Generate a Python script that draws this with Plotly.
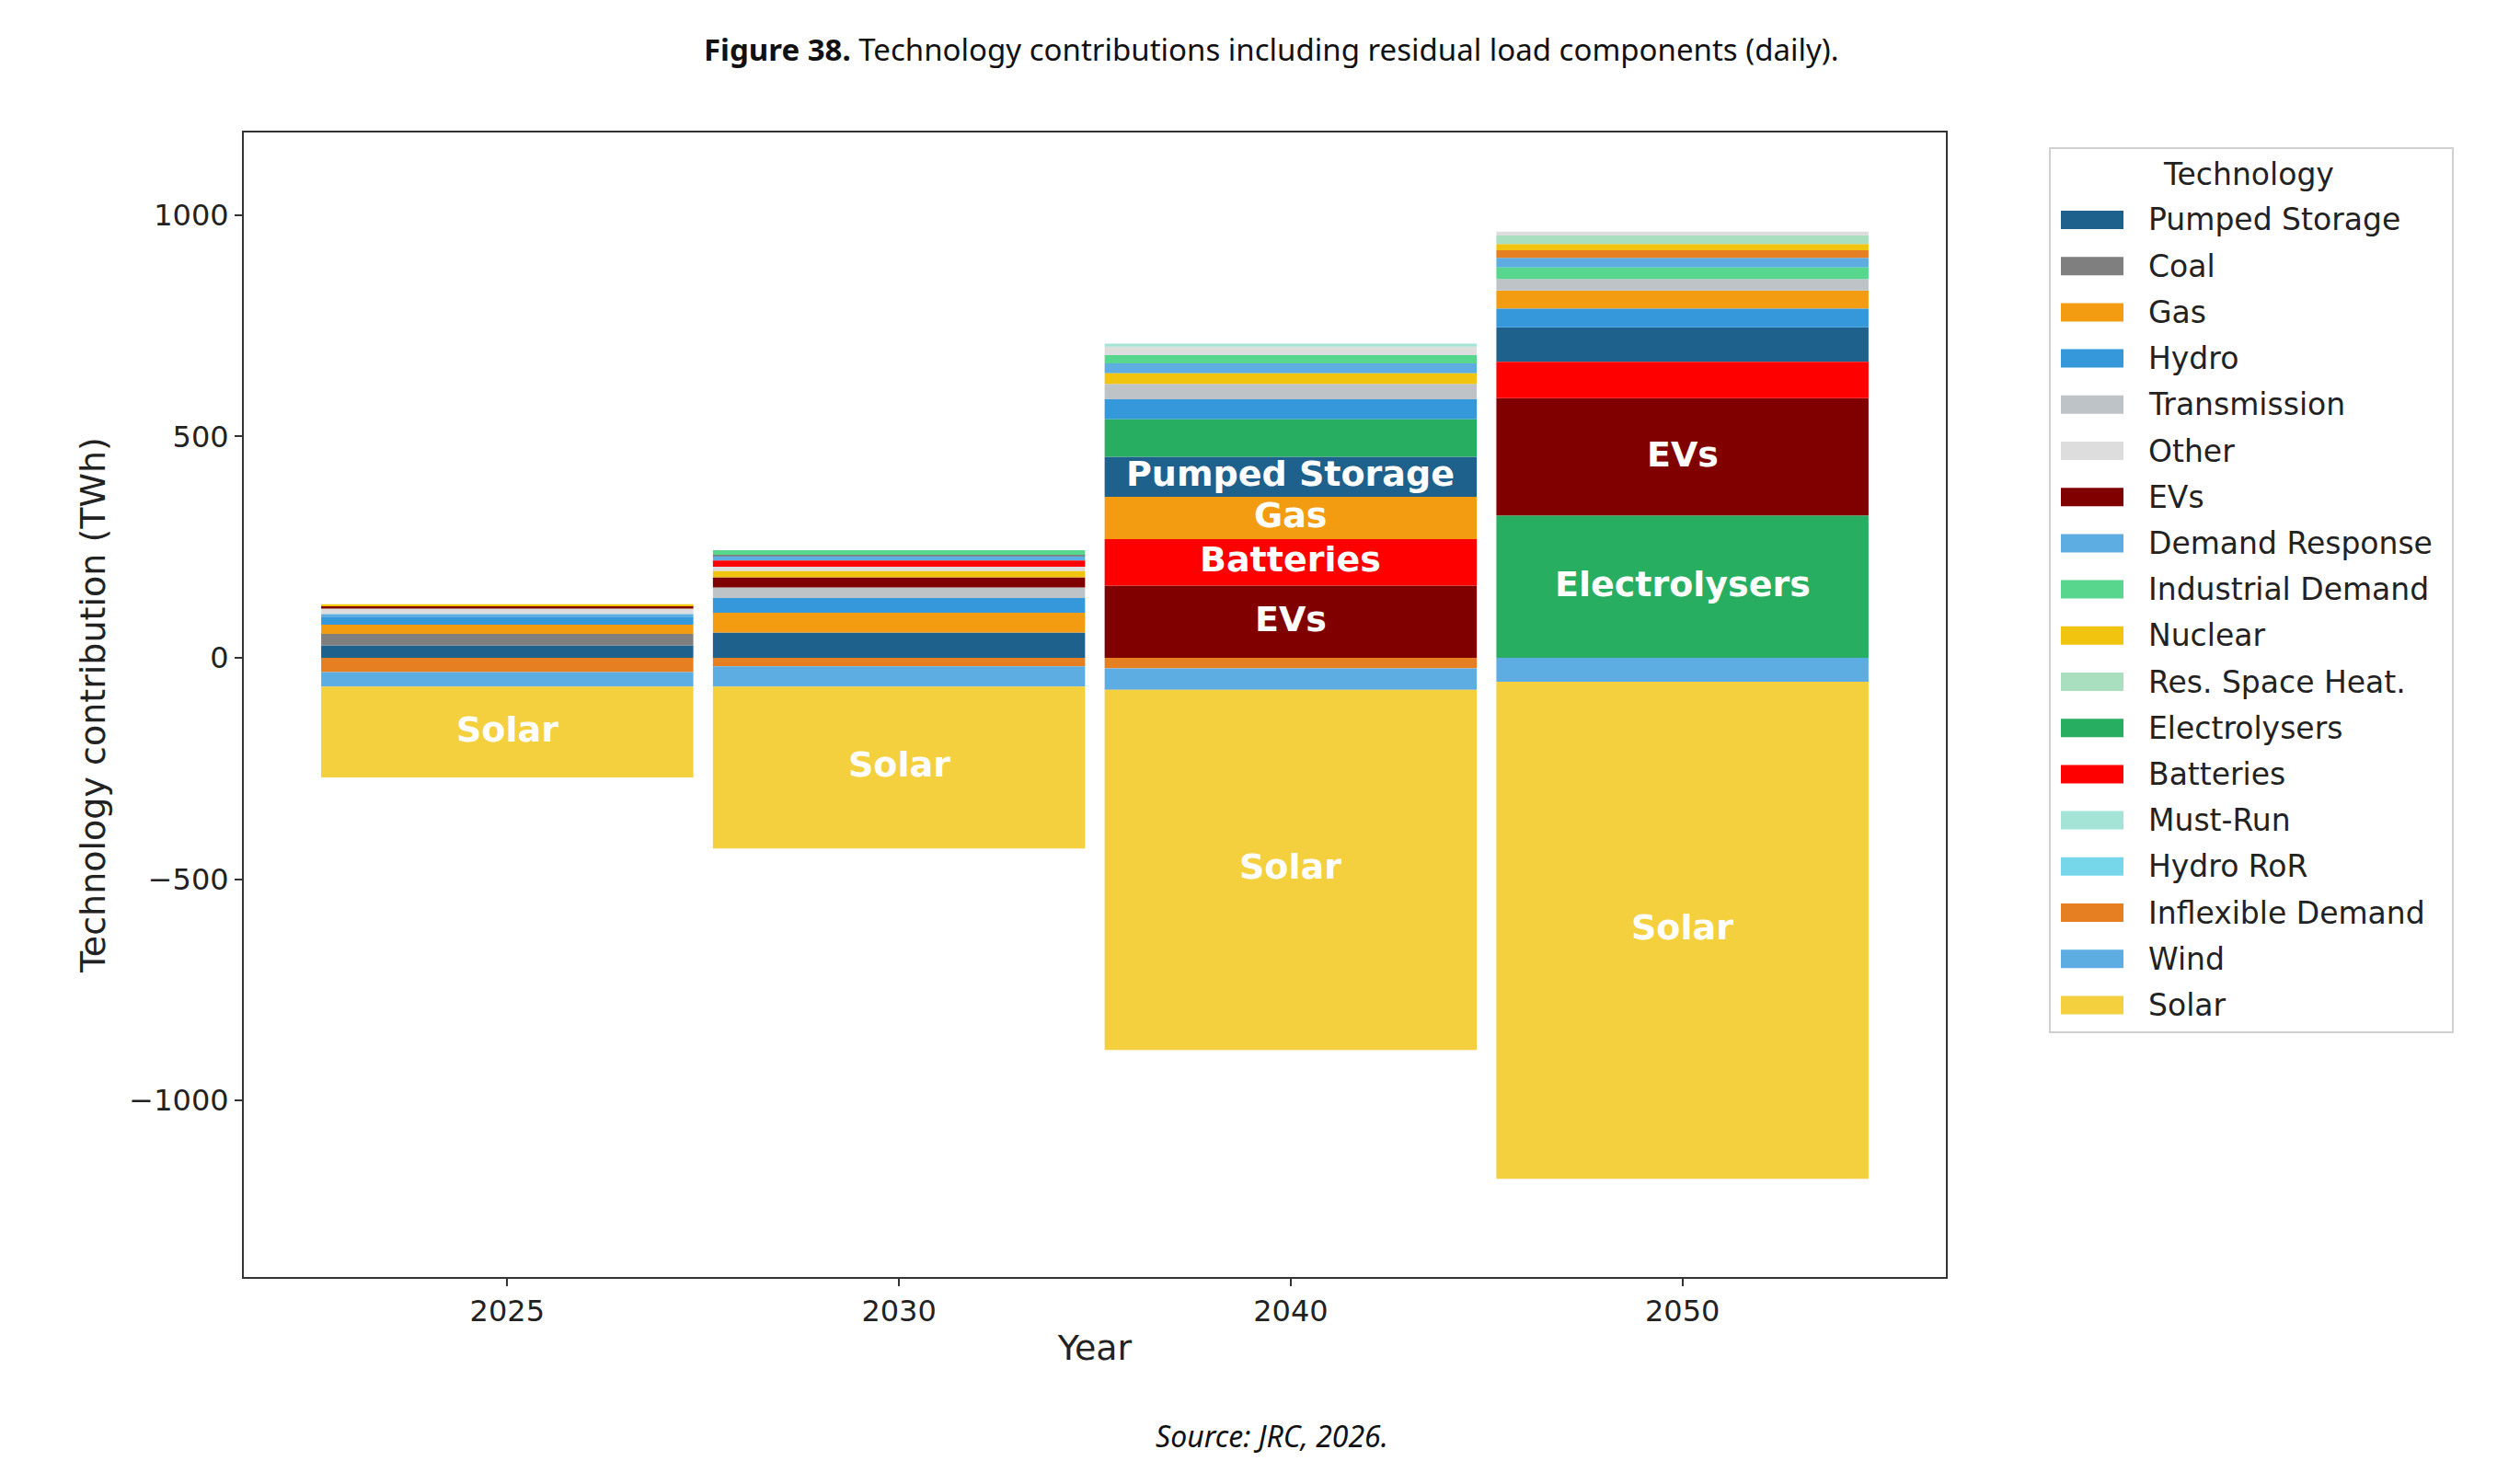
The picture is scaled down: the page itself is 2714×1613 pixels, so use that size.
import plotly.graph_objects as go

# ---------------- data ----------------
years = ["2025", "2030", "2040", "2050"]

technologies = [
    "Pumped Storage", "Coal", "Gas", "Hydro", "Transmission", "Other", "EVs",
    "Demand Response", "Industrial Demand", "Nuclear", "Res. Space Heat.",
    "Electrolysers", "Batteries", "Must-Run", "Hydro RoR", "Inflexible Demand",
    "Wind", "Solar",
]

colors = [
    "#1f618d", "#7f7f7f", "#f39c12", "#3498db", "#bdc3c7", "#dddddd", "#800000",
    "#5dade2", "#58d68d", "#f1c40f", "#a9dfbf", "#27ae60", "#ff0000", "#a3e4d7",
    "#76d7ea", "#e67e22", "#5dade2", "#f4d03f",
]

# TWh per year: 2025, 2030, 2040, 2050
pumped_storage    = [28, 57, 90, 78]
coal              = [26, 4, 0, 0]
gas               = [21, 45, 96, 41]
hydro             = [18, 33, 45, 42]
transmission      = [0, 24, 35, 26]
other             = [12, 10, 19, 9]
evs               = [7, 23, 163, 266]
demand_response   = [6, 9, 22, 22]
industrial_demand = [0, 10, 19, 26]
nuclear           = [3, 14, 24, 14]
res_space_heat    = [0, 0, 0, 19]
electrolysers     = [0, 0, 85, 321]
batteries         = [0, 14, 105, 82]
must_run          = [0, 0, 7, 0]
hydro_ror         = [0, 0, 0, 0]
inflexible_demand = [-32, -19, -24, 17]
wind              = [-33, -46, -48, -54]
solar             = [-205, -366, -814, -1123]

values = dict(zip(technologies, [
    pumped_storage, coal, gas, hydro, transmission, other, evs,
    demand_response, industrial_demand, nuclear, res_space_heat,
    electrolysers, batteries, must_run, hydro_ror, inflexible_demand,
    wind, solar,
]))

# stacking order per year (outward from zero, positives up / negatives down)
order_2025 = ["Pumped Storage", "Coal", "Gas", "Hydro", "Demand Response", "Other",
              "EVs", "Nuclear", "Inflexible Demand", "Wind", "Solar"]
order_2030 = ["Pumped Storage", "Gas", "Hydro", "Transmission", "EVs", "Nuclear",
              "Other", "Batteries", "Demand Response", "Coal", "Industrial Demand",
              "Inflexible Demand", "Wind", "Solar"]
order_2040 = ["EVs", "Batteries", "Gas", "Pumped Storage", "Electrolysers", "Hydro",
              "Transmission", "Nuclear", "Demand Response", "Industrial Demand",
              "Other", "Must-Run", "Inflexible Demand", "Wind", "Solar"]
order_2050 = ["Electrolysers", "EVs", "Batteries", "Pumped Storage", "Hydro", "Gas",
              "Transmission", "Industrial Demand", "Demand Response",
              "Inflexible Demand", "Nuclear", "Res. Space Heat.", "Other",
              "Wind", "Solar"]
stack_orders = [order_2025, order_2030, order_2040, order_2050]

label_threshold = 88  # segments at least this large get an in-bar label

# ---------------- compute stacking bases ----------------
bases = {t: [0.0] * len(years) for t in technologies}
for j, order in enumerate(stack_orders):
    pos, neg = 0.0, 0.0
    for t in order + [t for t in technologies if t not in order]:
        v = values[t][j]
        if v >= 0:
            bases[t][j] = pos
            pos += v
        else:
            bases[t][j] = neg
            neg += v

# ---------------- figure ----------------
W, H = 2714, 1613
ml, mr, mt, mb = 265, W - 2115, 144, H - 1388
pw, ph = W - ml - mr, H - mt - mb


def px_x(px):
    return (px - ml) / pw


def px_y(py):
    return (H - mb - py) / ph


fig = go.Figure()
for t, c in zip(technologies, colors):
    fig.add_trace(go.Bar(
        name=t, x=years, y=values[t], base=bases[t], width=0.95,
        marker=dict(color=c, line=dict(width=0)),
        showlegend=False,
        hovertemplate=t + ": %{y} TWh<extra></extra>",
    ))

annotations = []
for t in technologies:
    for j, yr in enumerate(years):
        v = values[t][j]
        if abs(v) >= label_threshold:
            annotations.append(dict(
                x=j, y=bases[t][j] + v / 2, xref="x", yref="y", text="<b>%s</b>" % t,
                showarrow=False, font=dict(family="DejaVu Sans", size=38, color="white"),
                xanchor="center", yanchor="middle", yshift=3,
            ))

# title and source
annotations.append(dict(
    x=px_x(1382), y=px_y(54), xref="paper", yref="paper",
    text="<b>Figure 38.</b> Technology contributions including residual load components (daily).",
    showarrow=False, xanchor="center", yanchor="middle",
    font=dict(family="Noto Sans", size=33, color="#111111"),
))
annotations.append(dict(
    x=px_x(1382), y=px_y(1561), xref="paper", yref="paper",
    text="<i>Source: JRC, 2026.</i>",
    showarrow=False, xanchor="center", yanchor="middle",
    font=dict(family="Noto Sans", size=32, color="#111111"),
))

# custom legend
shapes = []
lg_x0, lg_x1, lg_y0, lg_y1 = 2228, 2666, 161, 1122
shapes.append(dict(type="rect", xref="paper", yref="paper",
                   x0=px_x(lg_x0), x1=px_x(lg_x1), y0=px_y(lg_y1), y1=px_y(lg_y0),
                   line=dict(color="#d0d0d0", width=2), fillcolor="white", layer="above"))
annotations.append(dict(
    x=px_x(2444), y=px_y(189), xref="paper", yref="paper", text="Technology",
    showarrow=False, xanchor="center", yanchor="middle",
    font=dict(family="DejaVu Sans", size=33, color="#222222"),
))
for i, (t, c) in enumerate(zip(technologies, colors)):
    yc = 239 + i * 50.2
    shapes.append(dict(type="rect", xref="paper", yref="paper",
                       x0=px_x(2240), x1=px_x(2308), y0=px_y(yc + 10), y1=px_y(yc - 10),
                       line=dict(width=0), fillcolor=c, layer="above"))
    annotations.append(dict(
        x=px_x(2333), y=px_y(yc), xref="paper", yref="paper", text=t,
        showarrow=False, xanchor="left", yanchor="middle",
        font=dict(family="DejaVu Sans", size=33, color="#222222"),
    ))

fig.update_layout(
    width=W, height=H,
    margin=dict(l=ml, r=mr, t=mt, b=mb, pad=0),
    paper_bgcolor="white", plot_bgcolor="white",
    barmode="overlay",
    showlegend=False,
    font=dict(family="DejaVu Sans", size=32, color="#222222"),
    annotations=annotations,
    shapes=shapes,
    xaxis=dict(
        type="category", range=[-0.6725, 3.6725],
        showline=True, linecolor="#333333", linewidth=2, mirror=True,
        ticks="outside", ticklen=8, tickwidth=2, tickcolor="#333333",
        tickfont=dict(family="DejaVu Sans", size=32, color="#222222"),
        title=dict(text="Year", font=dict(family="DejaVu Sans", size=38, color="#222222"),
                   standoff=8),
        showgrid=False, zeroline=False,
    ),
    yaxis=dict(
        range=[-1399, 1187],
        tickvals=[-1000, -500, 0, 500, 1000],
        showline=True, linecolor="#333333", linewidth=2, mirror=True,
        ticks="outside", ticklen=8, tickwidth=2, tickcolor="#333333",
        tickfont=dict(family="DejaVu Sans", size=32, color="#222222"),
        title=dict(text="Technology contribution (TWh)",
                   font=dict(family="DejaVu Sans", size=38, color="#222222"), standoff=14),
        showgrid=False, zeroline=False,
    ),
)

fig.write_html("out.html")
